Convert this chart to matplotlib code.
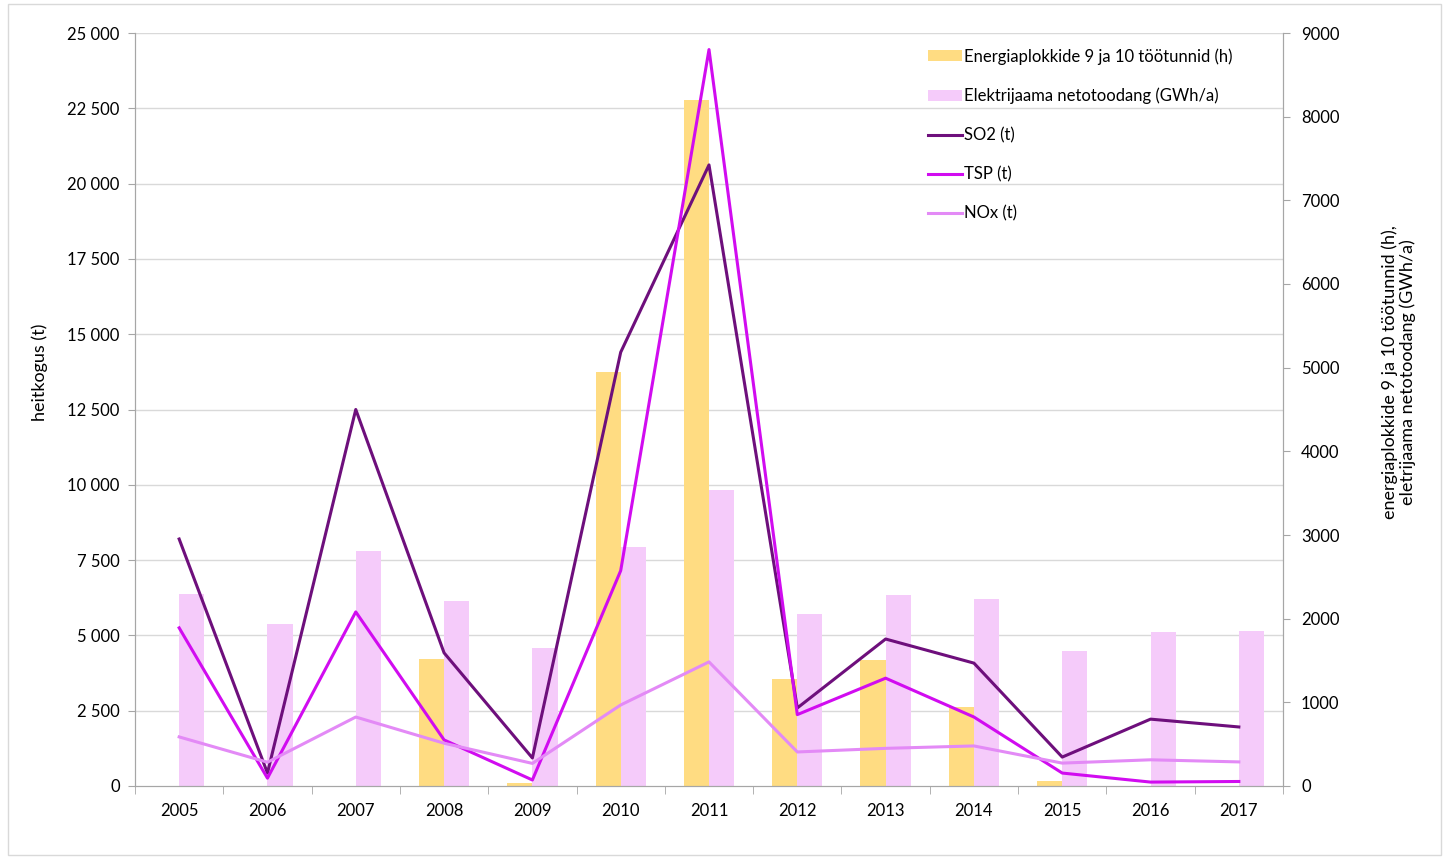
import numpy as np
import matplotlib
matplotlib.use("Agg")
from matplotlib import pyplot as plt
from matplotlib.patches import Rectangle
from matplotlib.ticker import FuncFormatter

years = ["2005", "2006", "2007", "2008", "2009", "2010", "2011",
         "2012", "2013", "2014", "2015", "2016", "2017"]

# right axis (bars)
tootunnid = [0, 0, 0, 1520, 30, 4950, 8200, 1280, 1505, 945, 60, 0, 0]
netotoodang = [2300, 1935, 2810, 2210, 1650, 2855, 3535, 2055, 2280, 2235, 1615, 1840, 1850]

# left axis (lines)
so2 = [8200, 430, 12500, 4420, 930, 14400, 20620, 2590, 4880, 4080, 960, 2220, 1960]
tsp = [5250, 260, 5780, 1530, 200, 7150, 24450, 2370, 3580, 2290, 430, 130, 150]
nox = [1630, 790, 2290, 1420, 750, 2690, 4120, 1130, 1250, 1330, 760, 870, 800]

plt.rcParams['font.family'] = ['Lato', 'DejaVu Sans']

def space_thousands(v, pos):
    return "{:,.0f}".format(v).replace(",", " ")

def main():
    fig = plt.figure(figsize=(14.49, 8.59), dpi=100)
    ax = fig.add_axes([135 / 1449, 1 - 786 / 859, (1283 - 135) / 1449, (786 - 33) / 859])
    ax2 = ax.twinx()

    x = np.arange(len(years))
    w = 0.285
    b1 = ax2.bar(x - w / 2, tootunnid, w, color="#FFDC82", label="Energiaplokkide 9 ja 10 töötunnid (h)", zorder=2)
    b2 = ax2.bar(x + w / 2, netotoodang, w, color="#F5CBFA", label="Elektrijaama netotoodang (GWh/a)", zorder=2)

    l1, = ax.plot(x, so2, color="#6E0F7C", linewidth=2.2, label="SO2 (t)")
    l2, = ax.plot(x, tsp, color="#D10CF0", linewidth=2.2, label="TSP (t)")
    l3, = ax.plot(x, nox, color="#E38AF6", linewidth=2.2, label="NOx (t)")

    # lines above bars
    ax.set_zorder(ax2.get_zorder() + 1)
    ax.patch.set_visible(False)

    ax.set_xlim(-0.5, len(years) - 0.5)
    ax.set_ylim(0, 25000)
    ax.set_yticks(np.arange(0, 25001, 2500))
    ax.yaxis.set_major_formatter(FuncFormatter(space_thousands))
    ax2.set_ylim(0, 9000)
    ax2.set_yticks(np.arange(0, 9001, 1000))

    # grid drawn on the bar axes so it sits behind everything
    for yv in np.arange(2500, 25001, 2500):
        ax2.axhline(yv * 9000 / 25000, color="#d9d9d9", linewidth=1.0, zorder=0)

    ax.set_xticks(x)
    ax.set_xticklabels(years)
    ax.set_xticks(np.arange(-0.5, len(years)), minor=True)
    ax.tick_params(axis="x", which="major", length=0, labelsize=12, pad=12)
    ax.tick_params(axis="x", which="minor", length=6, color="#a6a6a6")
    ax.tick_params(axis="y", length=5, color="#a6a6a6", labelsize=12, pad=6)
    ax2.tick_params(axis="y", length=5, color="#a6a6a6", labelsize=12, pad=8)

    for a in (ax, ax2):
        a.spines["top"].set_visible(False)
        for s in ("left", "right", "bottom"):
            a.spines[s].set_color("#a6a6a6")
    ax.set_ylabel("heitkogus (t)", fontsize=13, labelpad=14)
    ax2.set_ylabel("energiaplokkide 9 ja 10 töötunnid (h),\neletrijaama netotoodang (GWh/a)",
                   fontsize=13, labelpad=30, linespacing=1.1)
    ax.yaxis.label.set_y(0.55)
    ax2.yaxis.label.set_y(0.55)

    handles = [b1, b2, l1, l2, l3]
    ax.legend(handles, [h.get_label() for h in handles], loc="upper left",
              bbox_to_anchor=(0.678, 1.0), frameon=False, fontsize=12,
              labelspacing=1.38, handlelength=2.0, handletextpad=0.15, handleheight=0.6)

    fig.patches.append(Rectangle((8 / 1449, 4 / 859), 1433 / 1449, 851 / 859,
                                 transform=fig.transFigure, fill=False,
                                 edgecolor="#d9d9d9", linewidth=1.0))

    fig.savefig("out.png", dpi=100)

if __name__ == "__main__":
    main()
